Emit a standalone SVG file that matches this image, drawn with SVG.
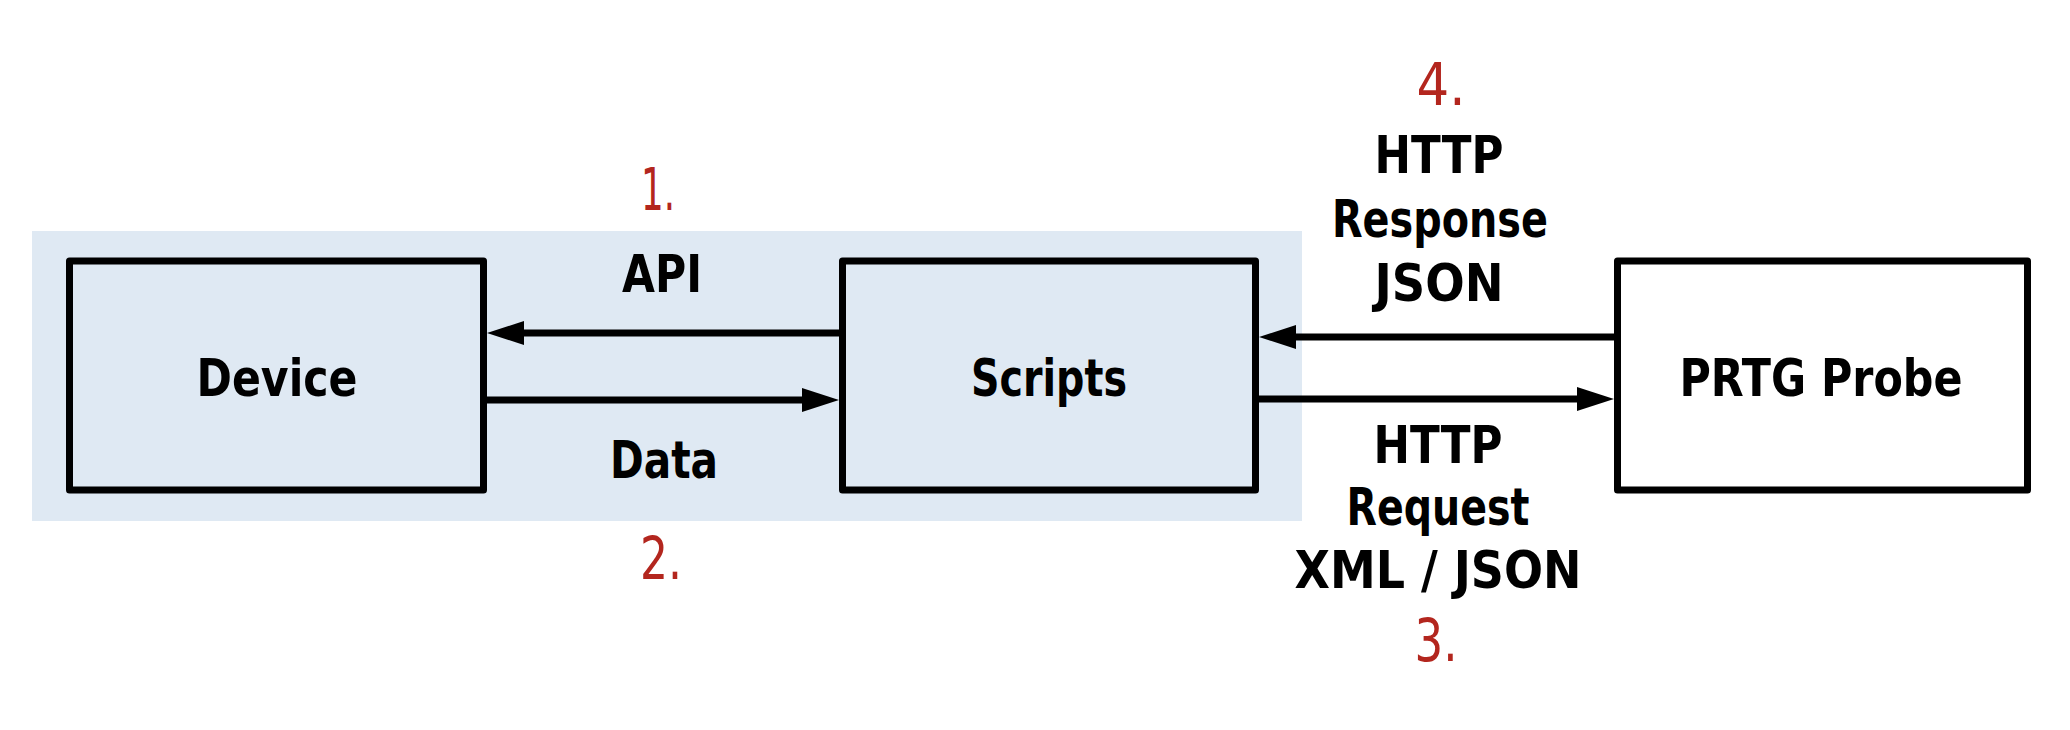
<svg xmlns="http://www.w3.org/2000/svg" width="2070" height="730" viewBox="0 0 2070 730">
<defs>
<style>
.box{fill:none;stroke:#000;stroke-width:7;stroke-linejoin:round}
.lbl{font-family:"DejaVu Sans Condensed","DejaVu Sans","Liberation Sans",sans-serif;font-weight:bold;font-size:51px;fill:#000;text-anchor:middle}
.num{font-family:"DejaVu Sans Condensed","DejaVu Sans","Liberation Sans",sans-serif;font-size:58px;fill:#b3261e;text-anchor:middle}
.con{stroke:#000;stroke-width:7;fill:none}
</style>
<marker id="ah" markerUnits="userSpaceOnUse" markerWidth="40" markerHeight="26" refX="0" refY="12" orient="auto" overflow="visible">
<path d="M0,0 L37,12 L0,24 Z" fill="#000"/>
</marker>
</defs>
<rect width="2070" height="730" fill="#fff"/>
<rect id="bg" x="32" y="231" width="1270" height="290" fill="#dfe9f3"/>
<g id="device">
<rect class="box" x="69.5" y="261" width="414" height="229"/>
<text class="lbl" x="277" y="396" textLength="161" lengthAdjust="spacingAndGlyphs">Device</text>
</g>
<g id="scripts">
<rect class="box" x="842.5" y="261" width="413" height="229"/>
<text class="lbl" x="1049" y="396" textLength="156" lengthAdjust="spacingAndGlyphs">Scripts</text>
</g>
<g id="prtg">
<rect class="box" x="1617.5" y="261" width="410" height="229"/>
<text class="lbl" x="1821" y="396" textLength="283" lengthAdjust="spacingAndGlyphs">PRTG Probe</text>
</g>
<g id="connectors">
<line class="con" x1="839" y1="333" x2="524" y2="333" marker-end="url(#ah)"/>
<line class="con" x1="487" y1="400" x2="802" y2="400" marker-end="url(#ah)"/>
<line class="con" x1="1614" y1="337" x2="1296" y2="337" marker-end="url(#ah)"/>
<line class="con" x1="1259" y1="399" x2="1577" y2="399" marker-end="url(#ah)"/>
</g>
<g id="labels">
<text class="num" x="658" y="210" textLength="34" lengthAdjust="spacingAndGlyphs">1.</text>
<text class="lbl" x="662" y="292" textLength="80" lengthAdjust="spacingAndGlyphs">API</text>
<text class="lbl" x="664" y="478" textLength="108" lengthAdjust="spacingAndGlyphs">Data</text>
<text class="num" x="661" y="579" textLength="42" lengthAdjust="spacingAndGlyphs">2.</text>
<text class="num" x="1441" y="105" textLength="49" lengthAdjust="spacingAndGlyphs">4.</text>
<text class="lbl" x="1439" y="173" textLength="129" lengthAdjust="spacingAndGlyphs">HTTP</text>
<text class="lbl" x="1440" y="237" textLength="216" lengthAdjust="spacingAndGlyphs">Response</text>
<text class="lbl" x="1439" y="301" textLength="129" lengthAdjust="spacingAndGlyphs">JSON</text>
<text class="lbl" x="1438" y="463" textLength="129" lengthAdjust="spacingAndGlyphs">HTTP</text>
<text class="lbl" x="1438" y="525" textLength="183" lengthAdjust="spacingAndGlyphs">Request</text>
<text class="lbl" x="1438" y="588" textLength="287" lengthAdjust="spacingAndGlyphs">XML / JSON</text>
<text class="num" x="1436" y="661" textLength="43" lengthAdjust="spacingAndGlyphs">3.</text>
</g>
</svg>
